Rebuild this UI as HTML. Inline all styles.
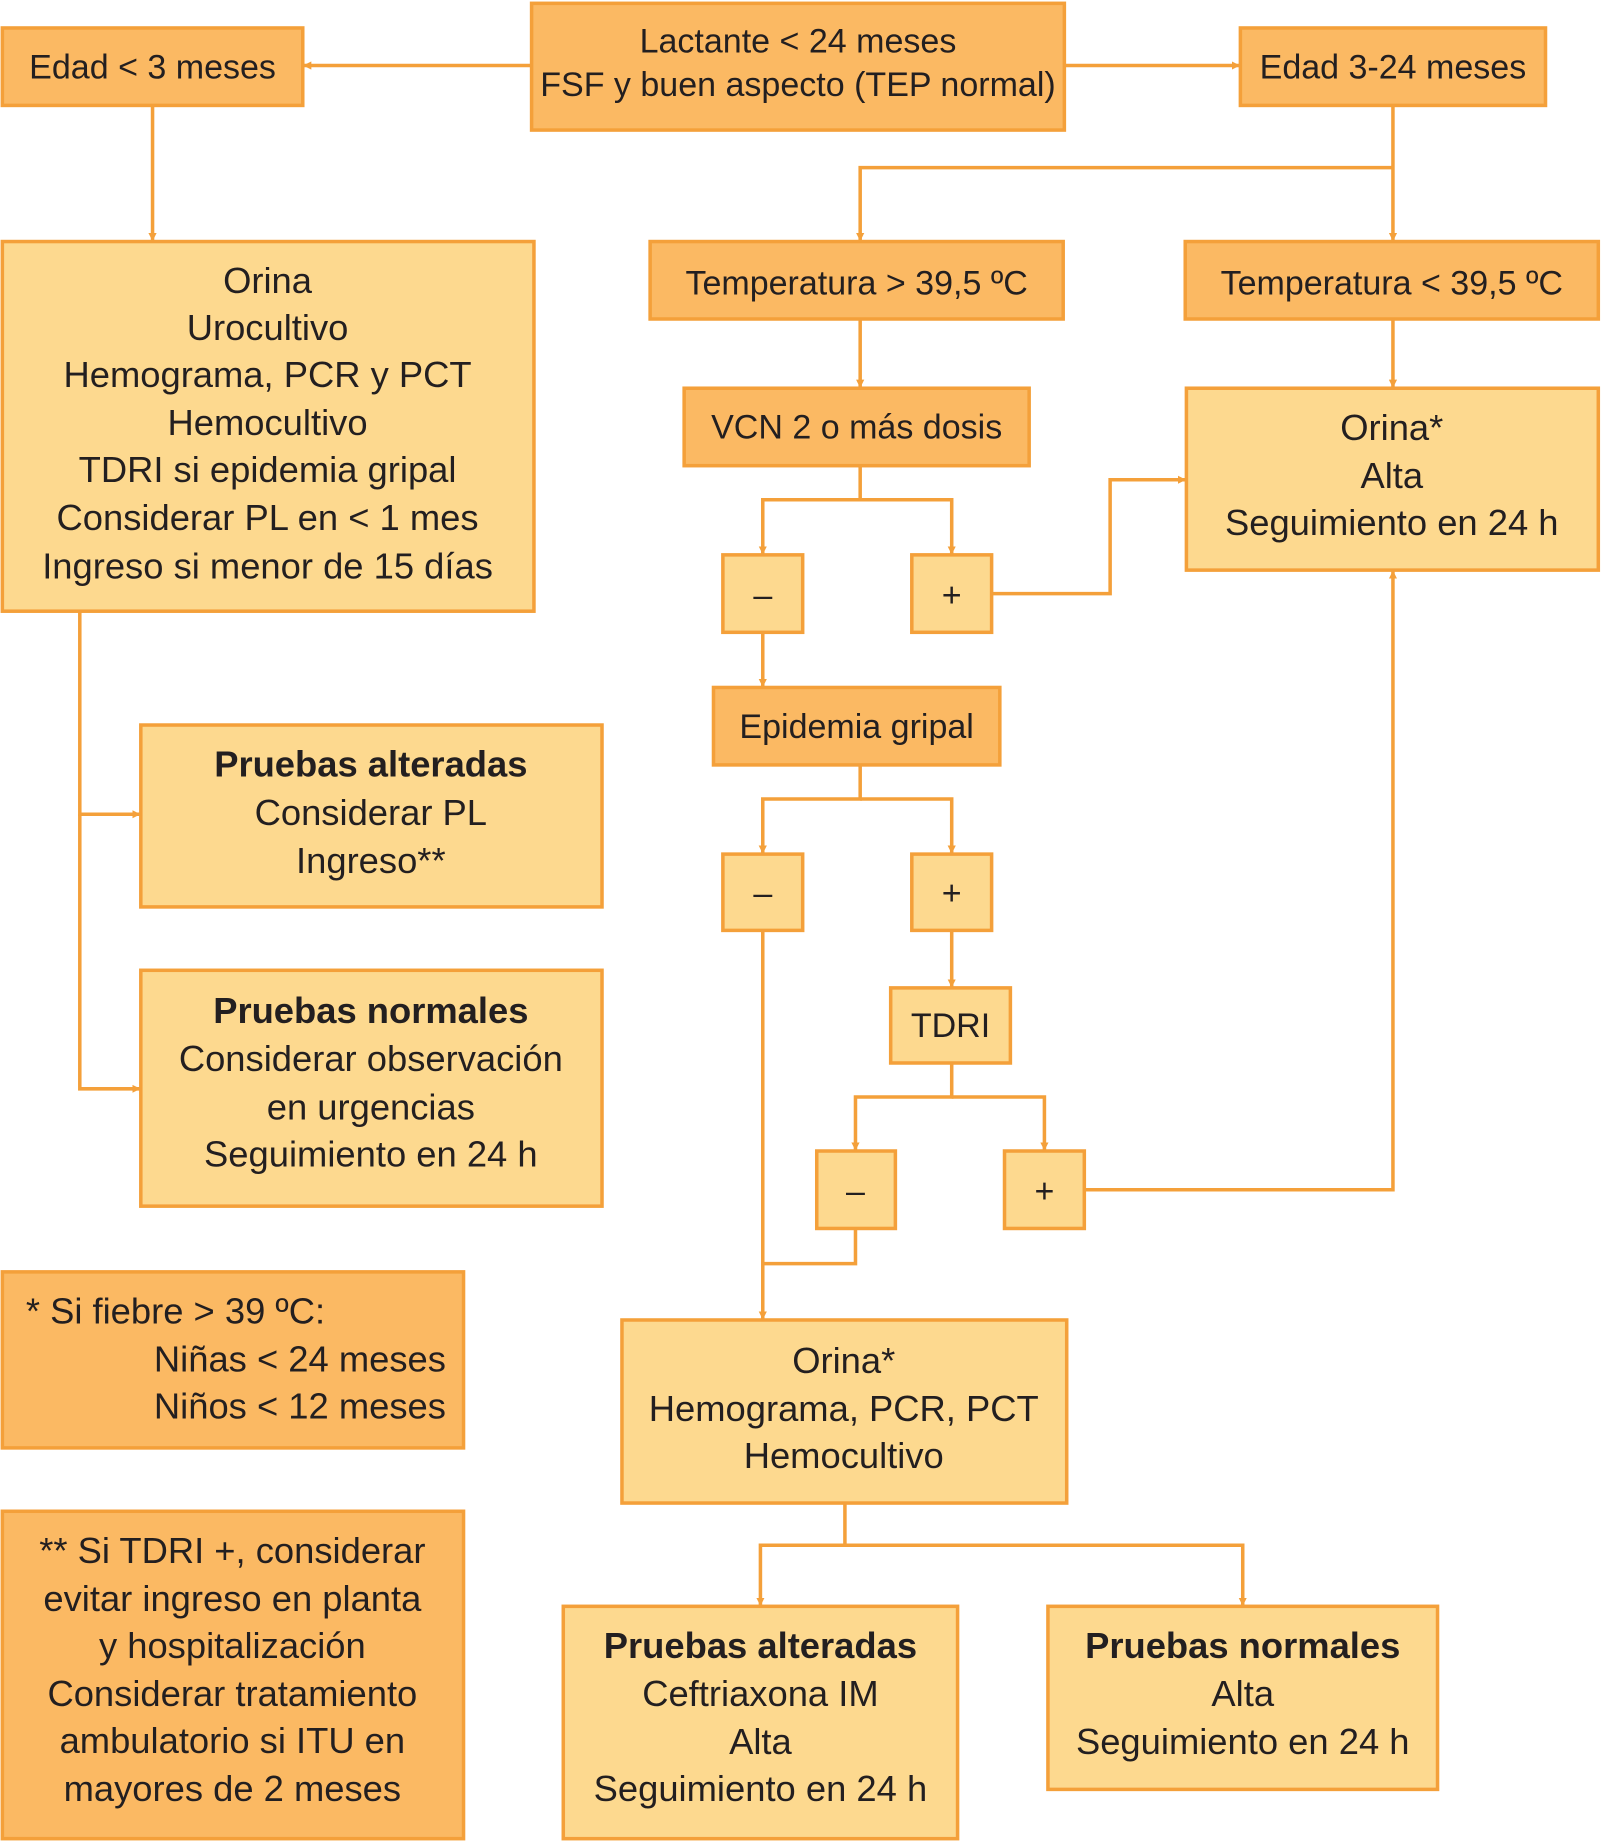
<!DOCTYPE html>
<html><head><meta charset="utf-8"><style>html,body{margin:0;padding:0;background:#fff}svg{display:block}</style></head>
<body>
<svg width="1603" height="1842" viewBox="0 0 1366 1568" xmlns="http://www.w3.org/2000/svg" font-family="Liberation Sans, sans-serif" fill="#231f20">
<defs>
<marker id="a" viewBox="0 0 10 10" refX="9" refY="5" markerWidth="7" markerHeight="7" markerUnits="userSpaceOnUse" orient="auto"><path d="M0,0L10,5L0,10z" fill="#F4A03A"/></marker>
</defs>
<g stroke="#F4A03A" stroke-width="3">
<g fill="#FBB963">
<rect x="453" y="2" width="454" height="108"/>
<rect x="2" y="23" width="256" height="66"/>
<rect x="1057" y="23" width="260" height="66"/>
<rect x="554" y="205" width="352" height="66"/>
<rect x="1010" y="205" width="352" height="66"/>
<rect x="583" y="330" width="294" height="66"/>
<rect x="608" y="585" width="244" height="66"/>
<rect x="2" y="1083" width="393" height="150"/>
<rect x="2" y="1287" width="393" height="279"/>
</g>
<g fill="#FDD98F">
<rect x="2" y="205" width="453" height="315"/>
<rect x="1011" y="330" width="351" height="155"/>
<rect x="616" y="472" width="68" height="66"/>
<rect x="777" y="472" width="68" height="66"/>
<rect x="616" y="727" width="68" height="65"/>
<rect x="777" y="727" width="68" height="65"/>
<rect x="759" y="841" width="102" height="64"/>
<rect x="696" y="980" width="67" height="66"/>
<rect x="856" y="980" width="68" height="66"/>
<rect x="120" y="617" width="393" height="155"/>
<rect x="120" y="826" width="393" height="201"/>
<rect x="530" y="1124" width="379" height="156"/>
<rect x="480" y="1368" width="336" height="198"/>
<rect x="893" y="1368" width="332" height="156"/>
</g>
<g fill="none" marker-end="url(#a)">
<path d="M453,55H259"/>
<path d="M907,55H1056"/>
<path d="M130,89V204"/>
<path d="M1187,89V204"/>
<path d="M1187,142H733V204"/>
<path d="M733,271V329"/>
<path d="M1187,271V329"/>
<path d="M733,396V425H650V471"/>
<path d="M733,425H811V471"/>
<path d="M650,538V584"/>
<path d="M845,505H946V408H1010"/>
<path d="M733,651V680H650V726"/>
<path d="M733,680H811V726"/>
<path d="M811,792V840"/>
<path d="M811,905V934H729V979"/>
<path d="M811,934H890V979"/>
<path d="M650,792V1123"/>
<path d="M924,1013H1187V486"/>
<path d="M68,520V693H119"/>
<path d="M68,693V927H119"/>
<path d="M720,1280V1316H648V1367"/>
<path d="M720,1316H1059V1367"/>
</g>
<path d="M729,1046V1076H650" fill="none"/>
</g>
<g font-size="29" text-anchor="middle" stroke="none">
<text x="680" y="44">Lactante &lt; 24 meses</text>
<text x="680" y="81">FSF y buen aspecto (TEP normal)</text>
<text x="130" y="66">Edad  &lt; 3 meses</text>
<text x="1187" y="66">Edad 3-24 meses</text>
<text x="730" y="250">Temperatura &gt; 39,5 ºC</text>
<text x="1186" y="250">Temperatura &lt; 39,5 ºC</text>
<text x="730" y="373">VCN 2 o más dosis</text>
<text x="730" y="628">Epidemia gripal</text>
<text x="810" y="883">TDRI</text>
<text x="650" y="516">–</text><text x="811" y="516">+</text>
<text x="650" y="770">–</text><text x="811" y="770">+</text>
<text x="729" y="1024">–</text><text x="890" y="1024">+</text>
</g>
<g font-size="31" text-anchor="middle" stroke="none">
<text x="228" y="249">Orina</text>
<text x="228" y="289">Urocultivo</text>
<text x="228" y="329">Hemograma, PCR y PCT</text>
<text x="228" y="370">Hemocultivo</text>
<text x="228" y="410">TDRI si epidemia gripal</text>
<text x="228" y="451">Considerar PL en &lt; 1 mes</text>
<text x="228" y="492">Ingreso si menor de 15 días</text>
<text x="1186" y="374">Orina*</text>
<text x="1186" y="415">Alta</text>
<text x="1186" y="455">Seguimiento en 24 h</text>
<text x="316" y="661" font-weight="bold">Pruebas alteradas</text>
<text x="316" y="702">Considerar PL</text>
<text x="316" y="743">Ingreso**</text>
<text x="316" y="871" font-weight="bold">Pruebas normales</text>
<text x="316" y="912">Considerar observación</text>
<text x="316" y="953">en urgencias</text>
<text x="316" y="993">Seguimiento en 24 h</text>
<text x="719" y="1169">Orina*</text>
<text x="719" y="1210">Hemograma, PCR, PCT</text>
<text x="719" y="1250">Hemocultivo</text>
<text x="648" y="1412" font-weight="bold">Pruebas alteradas</text>
<text x="648" y="1453">Ceftriaxona IM</text>
<text x="648" y="1494">Alta</text>
<text x="648" y="1534">Seguimiento en 24 h</text>
<text x="1059" y="1412" font-weight="bold">Pruebas normales</text>
<text x="1059" y="1453">Alta</text>
<text x="1059" y="1494">Seguimiento en 24 h</text>
<text x="22" y="1127" text-anchor="start">* Si fiebre &gt; 39 ºC:</text>
<text x="380" y="1168" text-anchor="end">Niñas &lt; 24 meses</text>
<text x="380" y="1208" text-anchor="end">Niños &lt; 12 meses</text>
<text x="198" y="1331">** Si TDRI +, considerar</text>
<text x="198" y="1372">evitar ingreso en planta</text>
<text x="198" y="1412">y hospitalización</text>
<text x="198" y="1453">Considerar tratamiento</text>
<text x="198" y="1493">ambulatorio si ITU en</text>
<text x="198" y="1534">mayores de 2 meses</text>
</g>
</svg>
</body></html>
